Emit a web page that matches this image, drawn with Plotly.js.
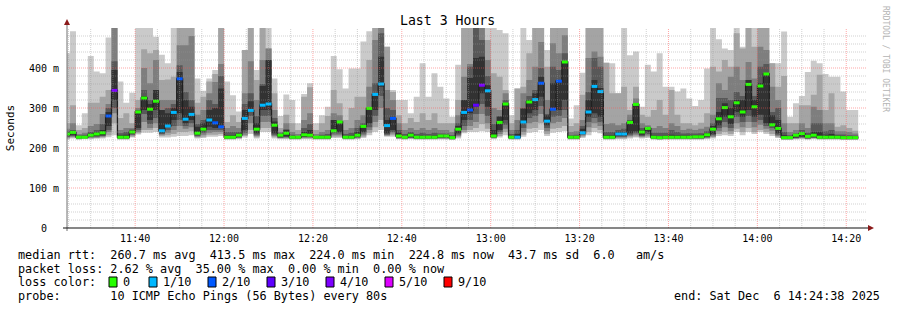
<!DOCTYPE html>
<html><head><meta charset="utf-8">
<script src="https://cdn.plot.ly/plotly-3.0.1.min.js"></script>
<style>html,body{margin:0;padding:0;background:#fff;}#chart{width:897px;height:310px;}</style>
</head><body><div id="chart"></div>
<script>
// ---- data (ms), one value per 80 s probe step ----
const stepSeconds = 80;
const firstStep = '2025-12-06 11:24:01';
const median = [235,239,227,227,232,235,238,280,344,227, 227,240,290,325,297,317,243,255,289,373, 272,284,237,247,270,263,253,227,227,232, 274,294,247,307,310,257,232,237,227,227, 233,232,227,227,227,243,265,227,227,232, 254,299,334,360,256,274,230,227,232,227, 227,227,227,230,230,226,247,289,295,307, 357,343,230,264,310,227,227,265,315,321, 362,267,297,367,415,227,227,238,290,354, 341,227,227,235,235,264,309,240,249,227, 226,227,227,227,227,227,228,228,233,247, 273,301,278,313,290,359,303,355,385,258, 249,226,226,232,236,229,232,227,227,227, 227,226,226,226];
const lossCount = [0,0,0,0,0,0,0,2,4,0, 0,0,0,0,0,0,1,1,1,2, 1,1,0,0,1,2,2,0,0,0, 1,1,0,1,1,0,0,0,0,0, 0,0,0,0,0,0,0,0,0,0, 0,0,1,1,1,2,0,0,0,0, 0,0,0,0,0,0,0,1,2,3, 4,1,0,0,0,0,1,1,0,1, 2,1,2,2,0,0,0,1,1,1, 1,0,0,1,1,0,0,0,0,0, 0,0,0,0,0,0,0,0,0,0, 0,0,0,0,0,0,0,0,0,0, 0,0,0,0,0,0,0,0,0,0, 0,0,0,0];
// sorted pings: p1 (lowest) ... p10 (highest)
const p10 = [437,492,257,287,430,391,387,476,500,366, 313,338,500,500,500,478,433,412,500,500, 500,500,374,343,374,395,500,366,332,291, 445,500,395,500,500,374,280,334,320,262, 335,362,262,282,303,430,397,349,399,399, 466,492,500,500,453,345,320,320,287,328, 412,328,387,353,324,278,408,500,500,500, 500,500,500,495,487,282,349,500,470,500, 500,445,500,500,500,274,307,388,500,500, 500,413,412,337,500,432,441,303,408,391, 437,353,353,341,349,324,305,320,399,500, 472,449,445,500,453,500,500,500,500,412, 412,491,278,312,330,390,418,412,385,378, 378,341,295,295];
const p9 = [262,307,245,250,313,313,328,345,500,275, 287,262,320,447,437,445,370,371,378,500, 500,500,313,328,366,385,500,265,282,265, 445,500,370,500,449,337,250,283,262,245, 328,352,245,262,280,345,312,270,300,328, 328,420,500,500,453,340,282,262,275,265, 287,270,287,262,262,262,320,500,500,500, 500,470,387,378,345,262,349,353,437,500, 500,403,500,500,500,255,262,333,500,500, 500,413,337,337,353,295,353,283,278,295, 320,283,345,283,262,262,257,263,287,403, 391,420,403,487,449,500,453,500,500,412, 353,380,262,262,307,307,333,383,295,337, 253,257,250,243];
const p8 = [248,262,235,238,255,260,285,310,500,245, 250,250,300,400,362,420,320,320,320,457, 457,480,283,295,337,365,410,250,255,250, 337,417,320,420,449,295,240,262,240,235, 270,287,235,240,245,287,282,245,250,270, 282,353,470,500,345,320,262,245,250,245, 250,245,250,245,245,240,282,378,410,500, 500,420,300,295,337,245,270,337,370,403, 465,320,462,437,482,240,242,270,425,441, 428,260,262,257,262,283,324,262,257,250, 255,250,262,255,245,248,245,248,253,283, 362,345,378,403,370,415,374,453,445,353, 320,262,240,245,262,250,303,295,262,262, 242,242,240,236];
const p7 = [242,245,232,233,240,245,260,300,417,237, 240,246,295,345,320,345,295,300,310,407, 340,320,260,270,320,310,380,240,240,240, 310,337,280,360,420,275,236,247,233,230, 250,260,230,233,235,270,265,235,238,250, 262,300,362,487,300,295,245,235,240,235, 238,235,238,236,236,232,262,320,403,500, 470,380,260,280,320,235,245,300,330,345, 400,285,403,395,437,232,233,255,340,425, 403,240,240,245,248,270,312,250,253,238, 238,238,245,240,236,237,236,237,242,262, 325,325,320,340,330,370,330,403,410,290, 300,240,232,236,245,238,262,262,242,245, 234,234,232,231];
const p6 = [238,242,230,230,236,239,245,290,395,232, 233,244,292,330,310,345,295,287,300,390, 320,303,253,262,295,300,349,232,232,236, 295,317,262,355,420,266,234,245,230,228, 240,245,228,230,230,270,262,230,231,240, 253,300,332,428,270,278,238,230,236,230, 231,230,231,232,232,229,255,320,375,425, 428,357,245,278,312,230,235,298,320,337, 378,282,362,370,417,229,230,248,320,370, 350,232,232,240,240,267,312,245,252,231, 230,231,233,232,231,231,232,232,237,255, 290,312,300,320,320,370,320,362,387,282, 270,232,229,233,240,232,240,240,233,235, 231,230,229,229];
const p5 = [230,233,225,226,228,230,232,255,320,225, 225,236,250,295,270,295,238,253,270,287, 262,270,233,242,253,250,250,225,225,228, 245,290,237,295,295,237,227,229,225,225, 228,228,225,225,225,240,240,225,225,228, 240,262,295,353,237,245,226,225,227,225, 225,225,225,226,226,224,237,270,287,303, 337,303,227,245,270,225,225,262,287,295, 328,257,295,295,320,225,225,237,278,287, 278,225,225,230,230,237,241,233,240,225, 224,225,225,225,225,225,225,225,228,235, 257,278,260,290,278,295,278,283,262,257, 237,224,224,226,229,225,227,225,225,225, 225,224,224,224];
const p4 = [228,230,224,225,227,228,230,245,300,224, 224,233,245,285,260,275,235,245,255,270, 255,262,230,238,245,245,245,224,224,226, 238,280,233,280,280,233,226,227,224,224, 227,227,224,224,224,236,236,224,224,226, 236,252,280,330,234,240,225,224,226,224, 224,224,224,225,225,223,233,255,270,285, 310,280,226,240,258,224,224,250,275,280, 305,250,278,280,295,224,224,234,265,275, 265,224,224,228,228,233,237,230,235,224, 223,224,224,224,224,224,224,224,227,232, 250,265,250,278,265,280,265,270,255,250, 233,223,223,225,227,224,226,224,224,224, 224,223,223,223];
const p3 = [226,228,223,224,226,226,228,240,287,223, 223,231,240,265,250,262,233,238,245,255, 248,252,228,233,238,240,240,223,223,225, 233,262,230,265,265,230,225,226,223,223, 226,226,223,223,223,232,232,223,223,225, 232,245,265,300,232,236,224,223,225,223, 223,223,223,224,224,222,230,245,255,265, 285,262,225,235,248,223,223,240,262,265, 285,242,262,265,275,223,223,231,252,262, 255,223,223,226,226,230,233,228,231,223, 222,223,223,223,223,223,223,223,225,229, 242,252,242,262,252,265,252,258,248,243, 230,222,222,224,225,223,225,223,223,223, 223,222,222,222];
const p2 = [224,226,222,223,224,225,226,232,262,222, 222,228,237,245,245,250,230,232,235,240, 240,242,226,228,233,233,235,222,222,224, 230,245,227,250,250,227,224,224,222,222, 224,224,222,222,222,228,228,222,222,223, 228,238,252,270,230,232,223,222,223,222, 222,222,222,223,223,221,227,240,245,250, 260,248,224,230,240,222,222,233,248,250, 262,235,248,250,255,222,222,228,240,250, 245,222,222,224,224,227,229,226,228,222, 221,222,222,222,222,222,222,222,224,227, 235,240,235,248,240,250,240,245,240,235, 227,221,221,223,224,222,224,222,222,222, 222,221,221,221];
const p1 = [222,224,221,222,222,223,224,227,232,221, 221,226,234,238,238,240,226,226,228,230, 230,232,224,225,228,228,230,221,221,222, 226,235,224,240,240,224,222,222,221,221, 222,222,221,221,221,225,225,221,221,222, 225,232,240,245,228,228,222,221,222,221, 221,221,221,221,221,220,224,237,240,240, 242,240,222,226,232,221,221,228,238,240, 245,230,238,240,242,221,221,225,232,240, 237,221,221,222,222,224,226,224,225,221, 220,221,221,221,221,221,221,221,222,224, 230,232,230,240,232,240,235,240,235,230, 225,220,220,221,222,221,222,221,221,221, 221,220,220,220];
const lossLabels = ['0','1/10','2/10','3/10','4/10','5/10','9/10'];
const lossLevels = [0,1,2,3,4,5,9];
const lossColors = ['#26ff00','#00b8ff','#0059ff','#5e00ff','#7e00ff','#dd00ff','#ff0000'];
const yTickVals = [0,100,200,300,400];
const yTickText = ['0\u00a0\u00a0','100\u00a0m','200\u00a0m','300\u00a0m','400\u00a0m'];
const statsLines = [
 'median rtt:  260.7 ms avg  413.5 ms max  224.0 ms min  224.8 ms now  43.7 ms sd  6.0   am/s',
 'packet loss: 2.62 % avg  35.00 % max  0.00 % min  0.00 % now'
];
const probeLine = 'probe:       10 ICMP Echo Pings (56 Bytes) every 80s';
const endLine = 'end: Sat Dec  6 14:24:38 2025';

// ---- build ----
const N = median.length;
const pad2 = n => String(n).padStart(2,'0');
function fmt(ms){const d=new Date(ms);return d.getUTCFullYear()+'-'+pad2(d.getUTCMonth()+1)+'-'+pad2(d.getUTCDate())+' '+pad2(d.getUTCHours())+':'+pad2(d.getUTCMinutes())+':'+pad2(d.getUTCSeconds());}
const baseMs = Date.parse(firstStep.replace(' ','T')+'Z');
const xs = []; for (let k=0;k<=N;k++) xs.push(fmt(baseMs+k*stepSeconds*1000));
const ext = a => a.concat([a[a.length-1]]);
const traces = [];
const bands = [[p1,p10,'#cacaca'],[p2,p9,'#a4a4a4'],[p3,p8,'#7e7e7e'],[p4,p7,'#585858'],[p5,p6,'#323232']];
bands.forEach(([lo,hi,c])=>{
  traces.push({x:xs,y:ext(lo),mode:'lines',line:{shape:'hv',width:0,color:c},hoverinfo:'skip'});
  traces.push({x:xs,y:ext(hi),mode:'lines',line:{shape:'hv',width:0,color:c},fill:'tonexty',fillcolor:c,hoverinfo:'skip'});
});
traces.push({x:xs,y:ext(median),mode:'lines',line:{shape:'hv',width:1.3,color:'#202020'},hoverinfo:'skip'});
function colorIdx(l){let idx=0;lossLevels.forEach((lv,i)=>{if(l>=lv)idx=i;});return idx;}
lossColors.forEach((c,ci)=>{
  const x=[],y=[];
  for(let k=0;k<N;k++){ if(colorIdx(lossCount[k])===ci){x.push(xs[k],xs[k+1],null);y.push(median[k],median[k],null);} }
  if(x.length) traces.push({x:x,y:y,mode:'lines',line:{width:3,color:c},hoverinfo:'skip'});
});

// pixel helpers for decorations (plot area 67..867 x 28..228)
const PX = px => (px-67)/800, PY = py => (228-py)/200;
const shapes = [];
const dotted = '1px,1px';
const g0 = Date.parse('2025-12-06T11:25:00Z');
for (let m=0; m<=175; m+=5){
  const t=g0+m*60000; const mm=new Date(t).getUTCMinutes();
  const major = mm%20===0;
  shapes.push({type:'line',xref:'x',yref:'paper',x0:fmt(t),x1:fmt(t),y0:0,y1:1,layer:'above',
    line:{color: major?'rgba(255,80,80,0.5)':'rgba(150,150,150,0.45)',width:1,dash:dotted}});
}
for (let v=20; v<500; v+=20){
  const major = v%100===0;
  shapes.push({type:'line',xref:'paper',yref:'y',x0:0,x1:1,y0:v,y1:v,layer:'above',
    line:{color: major?'rgba(255,80,80,0.5)':'rgba(150,150,150,0.45)',width:1,dash:dotted}});
}
shapes.push({type:'line',xref:'paper',yref:'paper',x0:PX(67),x1:PX(67),y0:PY(231),y1:PY(24),layer:'above',line:{color:'#707070',width:1}});
shapes.push({type:'line',xref:'paper',yref:'paper',x0:PX(63),x1:PX(869),y0:PY(228),y1:PY(228),layer:'above',line:{color:'#101010',width:1.2}});
shapes.push({type:'path',xref:'paper',yref:'paper',layer:'above',path:`M ${PX(64)} ${PY(25)} L ${PX(67)} ${PY(19)} L ${PX(70)} ${PY(25)} Z`,fillcolor:'#8b1a1a',line:{width:0}});
shapes.push({type:'path',xref:'paper',yref:'paper',layer:'above',path:`M ${PX(868)} ${PY(225)} L ${PX(874)} ${PY(228)} L ${PX(868)} ${PY(231)} Z`,fillcolor:'#8b1a1a',line:{width:0}});

const mono = 'DejaVu Sans Mono';
const nb = s => s.replace(/ /g,'\u00a0');
const ann = [];
const rowY = [254.5,268.5,282,296];
const legFont = {family:mono,size:11.8,color:'#000'};
statsLines.forEach((s,i)=>ann.push({xref:'paper',yref:'paper',x:PX(16),y:PY(rowY[i]),xanchor:'left',yanchor:'middle',showarrow:false,text:nb(s),font:legFont}));
ann.push({xref:'paper',yref:'paper',x:PX(16),y:PY(rowY[2]),xanchor:'left',yanchor:'middle',showarrow:false,text:nb('loss color:'),font:legFont});
const boxX=[109,149,208,267,326,385,444];
lossLabels.forEach((lab,i)=>{
  shapes.push({type:'rect',xref:'paper',yref:'paper',x0:PX(boxX[i]),x1:PX(boxX[i]+8),y0:PY(287),y1:PY(277),fillcolor:lossColors[i],line:{color:'#000',width:1},layer:'above'});
  ann.push({xref:'paper',yref:'paper',x:PX(boxX[i]+12),y:PY(rowY[2]),xanchor:'left',yanchor:'middle',showarrow:false,text:lab,font:legFont});
});
ann.push({xref:'paper',yref:'paper',x:PX(16),y:PY(rowY[3]),xanchor:'left',yanchor:'middle',showarrow:false,text:nb(probeLine),font:legFont});
ann.push({xref:'paper',yref:'paper',x:PX(882),y:PY(rowY[3]),xanchor:'right',yanchor:'middle',showarrow:false,text:nb(endLine),font:legFont});
ann.push({xref:'paper',yref:'paper',x:PX(886),y:PY(59),xanchor:'center',yanchor:'middle',showarrow:false,textangle:90,text:nb('RRDTOOL / TOBI OETIKER'),font:{family:mono,size:8,color:'#b4b4b4'}});

const layout = {
  width:897, height:310, margin:{l:67,r:30,t:28,b:82,pad:0},
  paper_bgcolor:'#ffffff', plot_bgcolor:'#ffffff', showlegend:false,
  font:{family:mono,size:10,color:'#000'},
  title:{text:'Last 3 Hours', xref:'container', x:0.499, yref:'container', y:1-20/310, yanchor:'middle', xanchor:'center', font:{family:mono,size:13.2,color:'#000'}},
  xaxis:{type:'date', range:['2025-12-06 11:24:40','2025-12-06 14:24:40'], tickformat:'%H:%M', tick0:'2025-12-06 11:40:00', dtick:1200000,
    showgrid:false, zeroline:false, showline:false, ticks:'outside', ticklen:1, tickcolor:'rgba(0,0,0,0)', tickfont:{family:mono,size:10,color:'#000'}, fixedrange:true},
  yaxis:{range:[0,500], tickmode:'array', tickvals:yTickVals, ticktext:yTickText, showgrid:false, zeroline:false, showline:false,
    ticks:'outside', ticklen:5, tickcolor:'rgba(0,0,0,0)', tickfont:{family:mono,size:10,color:'#000'},
    title:{text:'Seconds', standoff:12, font:{family:mono,size:11,color:'#000'}}, automargin:false, fixedrange:true},
  shapes:shapes, annotations:ann
};
Plotly.newPlot('chart', traces, layout, {staticPlot:true, displayModeBar:false});
</script></body></html>
